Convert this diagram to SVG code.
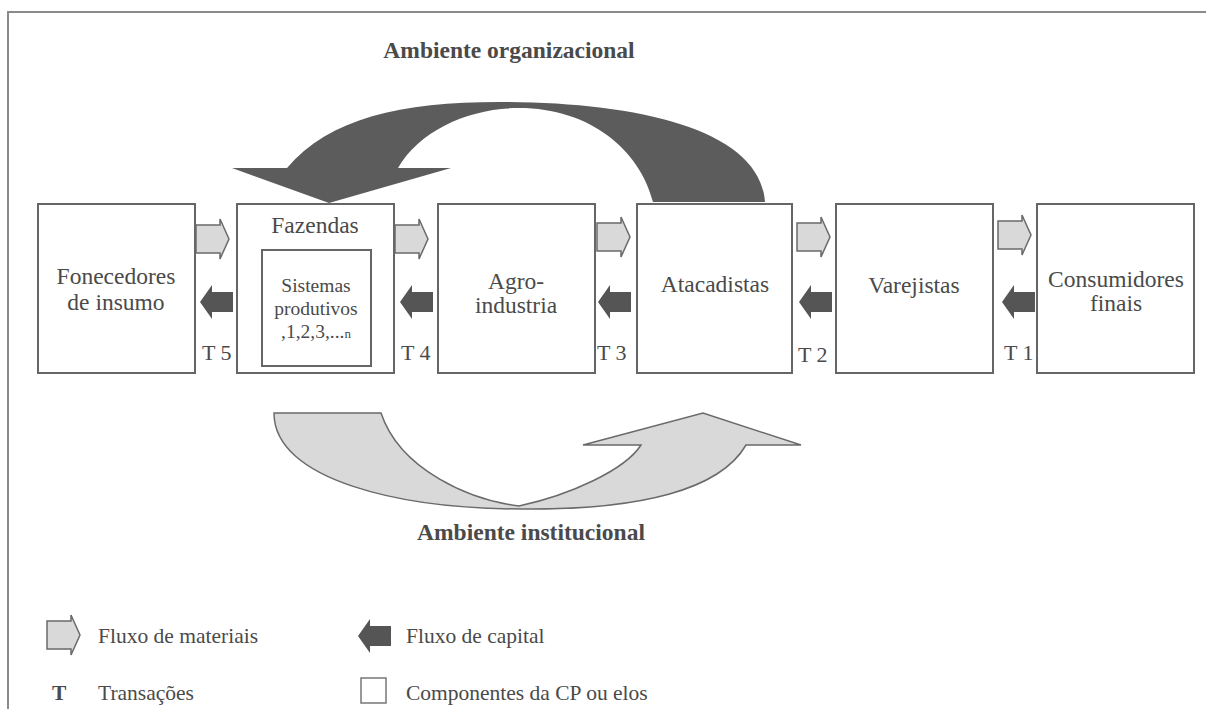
<svg xmlns="http://www.w3.org/2000/svg" width="1206" height="709" viewBox="0 0 1206 709">
<defs>
<style>
.box{fill:#fff;stroke:#666;stroke-width:2}
.t{font-family:"Liberation Serif","Times New Roman",serif;font-size:23.5px;fill:#4a4a4a;text-anchor:middle}
.ts{font-family:"Liberation Serif","Times New Roman",serif;font-size:19.5px;fill:#4a4a4a;text-anchor:middle}
.tl{font-family:"Liberation Serif","Times New Roman",serif;font-size:22px;fill:#4a4a4a}
.lg{font-family:"Liberation Serif","Times New Roman",serif;font-size:21.5px;fill:#4a4a4a}
.ttl{font-family:"Liberation Serif","Times New Roman",serif;font-size:23.5px;font-weight:bold;fill:#4a4a4a;text-anchor:middle}
.mat{fill:#d9d9d9;stroke:#6a6a6a;stroke-width:1.5}
.cap{fill:#555;stroke:none}
</style>
<path id="matA" d="M0,-14 L24,-14 L24,-20 L33,0 L24,20 L24,14 L0,14 Z"/>
<path id="capA" d="M0,0 L12,-17 L12,-10 L33,-10 L33,10 L12,10 L12,17 Z"/>
</defs>
<rect width="1206" height="709" fill="#fff"/>
<path d="M8,709 L8,12 L1206,12" fill="none" stroke="#8a8a8a" stroke-width="2"/>

<text class="ttl" x="509" y="58">Ambiente organizacional</text>
<path id="arcTop" fill="#5c5c5c" d="M232,168 L287,168 C330,118 400,102 500,102 C640,102 760,130 765,202 L653,202 C640,150 590,108 519,108 C470,108 420,130 398,168 L451,168 L329,203 Z"/>

<g id="n1"><rect class="box" x="38" y="204" width="157" height="169"/>
<text class="t" x="116" y="284">Fonecedores</text><text class="t" x="116" y="310">de insumo</text></g>
<g id="n2"><rect class="box" x="237" y="204" width="157" height="169"/>
<text class="t" x="315" y="233">Fazendas</text>
<rect class="box" x="262" y="250" width="109" height="116"/>
<text class="ts" x="316" y="292">Sistemas</text><text class="ts" x="316" y="315">produtivos</text>
<text class="ts" x="316" y="338">,1,2,3,...<tspan font-size="13px">n</tspan></text></g>
<g id="n3"><rect class="box" x="438" y="204" width="157" height="169"/>
<text class="t" x="516" y="289">Agro-</text><text class="t" x="516" y="313">industria</text></g>
<g id="n4"><rect class="box" x="637" y="204" width="155" height="169"/>
<text class="t" x="715" y="292">Atacadistas</text></g>
<g id="n5"><rect class="box" x="836" y="204" width="157" height="169"/>
<text class="t" x="914" y="293">Varejistas</text></g>
<g id="n6"><rect class="box" x="1037" y="204" width="157" height="169"/>
<text class="t" x="1116" y="287">Consumidores</text><text class="t" x="1116" y="311">finais</text></g>

<g id="connectors">
<use href="#matA" class="mat" x="196" y="239"/>
<use href="#matA" class="mat" x="395" y="239"/>
<use href="#matA" class="mat" x="597" y="237"/>
<use href="#matA" class="mat" x="797" y="237"/>
<use href="#matA" class="mat" x="998" y="235"/>
<use href="#capA" class="cap" x="200" y="302"/>
<use href="#capA" class="cap" x="400" y="302"/>
<use href="#capA" class="cap" x="598" y="302"/>
<use href="#capA" class="cap" x="799" y="302"/>
<use href="#capA" class="cap" x="1002" y="302"/>
</g>
<text class="tl" x="202" y="360">T 5</text>
<text class="tl" x="401" y="360">T 4</text>
<text class="tl" x="597" y="360">T 3</text>
<text class="tl" x="798" y="362">T 2</text>
<text class="tl" x="1004" y="360">T 1</text>

<path id="arcBottom" class="mat" d="M274,413 L381,413 C400,470 470,500 519,506 C570,495 625,470 641,445 L583,445 L703,413 L801,445 L746,445 C720,490 640,510 523,509 C400,509 274,480 274,413 Z"/>
<text class="ttl" x="531" y="540">Ambiente institucional</text>

<g id="legend">
<use href="#matA" class="mat" x="47" y="635"/>
<text class="lg" x="98" y="643">Fluxo de materiais</text>
<use href="#capA" class="cap" x="358" y="636"/>
<text class="lg" x="406" y="643">Fluxo de capital</text>
<text class="lg" x="52" y="700" font-weight="bold">T</text>
<text class="lg" x="98" y="700">Transações</text>
<rect x="361" y="678" width="25" height="25" fill="#fff" stroke="#777" stroke-width="1.5"/>
<text class="lg" x="406" y="700">Componentes da CP ou elos</text>
</g>
</svg>
